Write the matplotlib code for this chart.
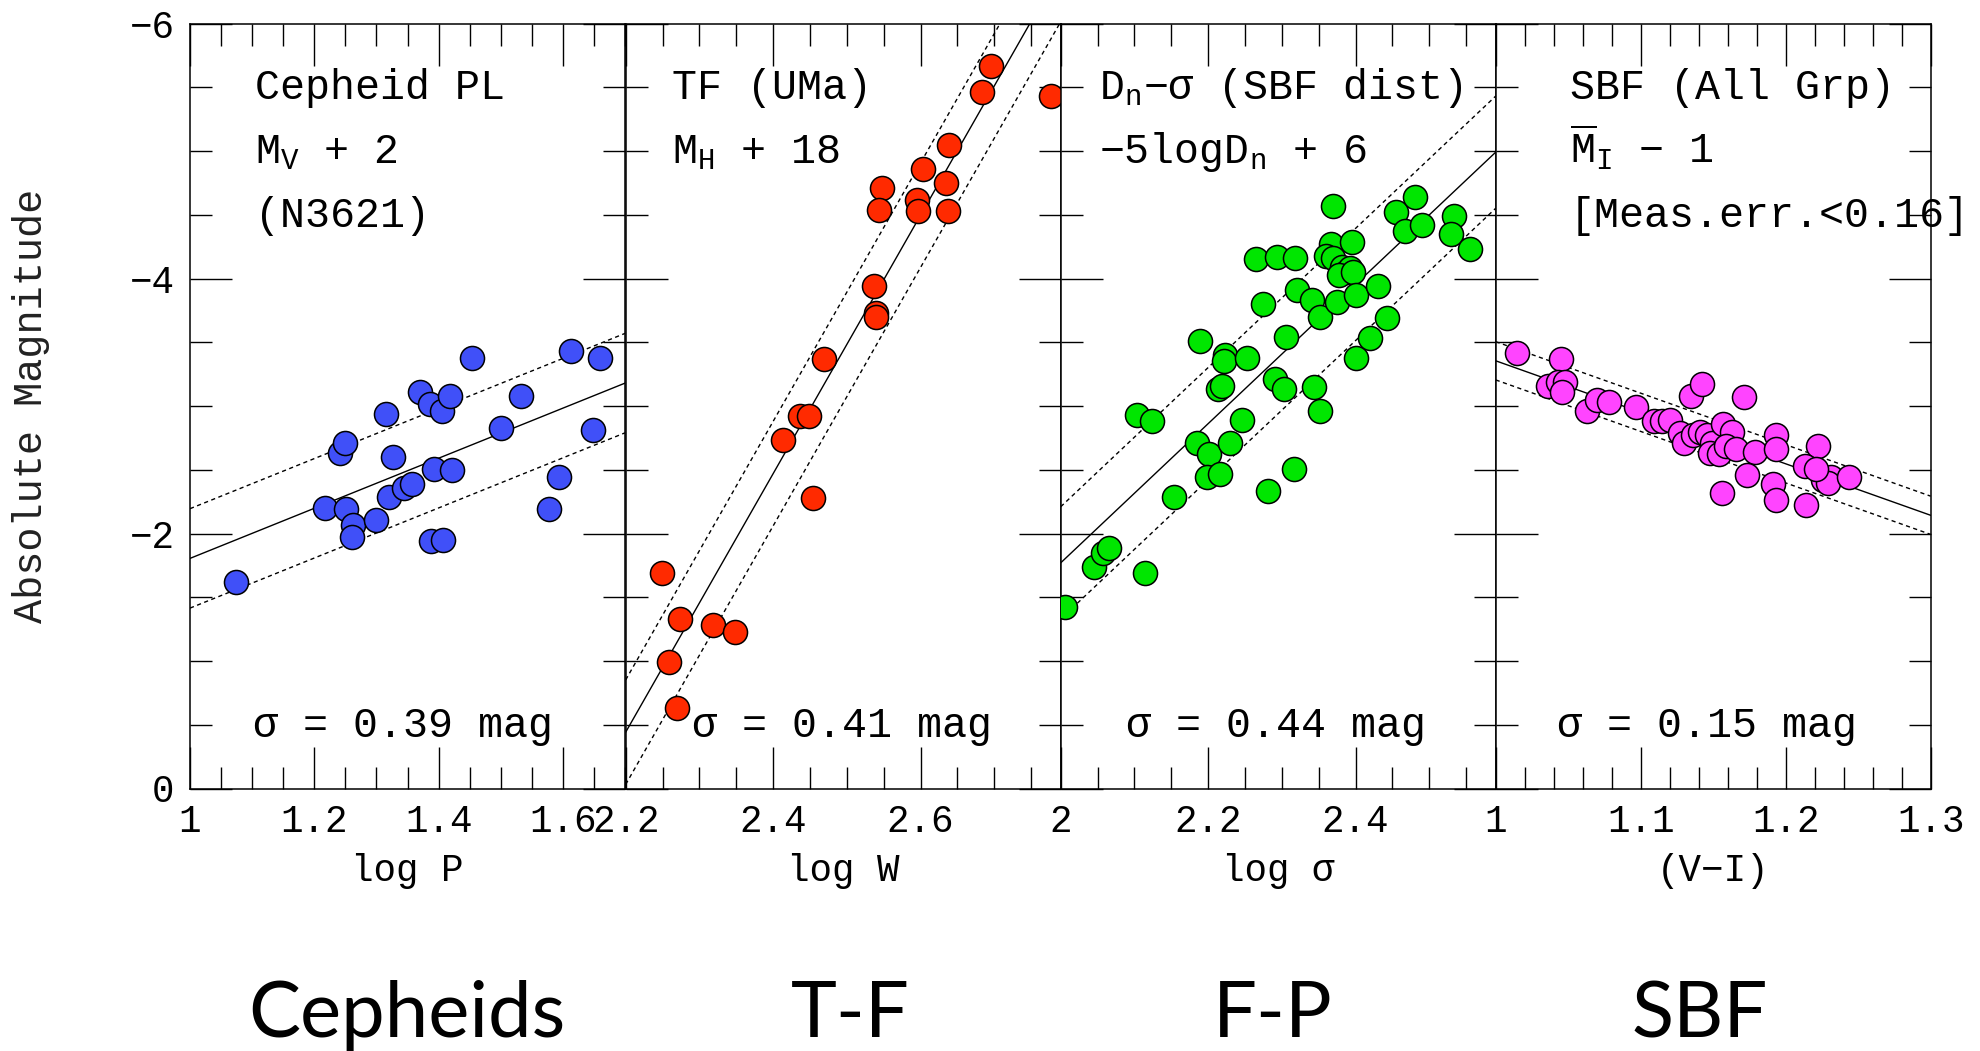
import numpy as np
import matplotlib
matplotlib.use("Agg")
import matplotlib.pyplot as plt
from matplotlib.ticker import MultipleLocator, FuncFormatter

plt.rcParams['font.family'] = ['Liberation Mono', 'DejaVu Sans Mono']
plt.rcParams['mathtext.fontset'] = 'custom'
plt.rcParams['mathtext.rm'] = 'Liberation Mono'
plt.rcParams['mathtext.it'] = 'Liberation Mono'
plt.rcParams['mathtext.bf'] = 'Liberation Mono'

# Cepheid PL (N3621), M_V + 2
cep_logp = [1.074, 1.218, 1.241, 1.249, 1.251, 1.263, 1.260, 1.299, 1.315, 1.326,
            1.320, 1.344, 1.358, 1.370, 1.386, 1.405, 1.418, 1.392, 1.421, 1.388,
            1.407, 1.453, 1.501, 1.532, 1.593, 1.578, 1.613, 1.660, 1.649]
cep_mag = [-1.62, -2.20, -2.63, -2.71, -2.19, -2.07, -1.97, -2.11, -2.94, -2.60,
           -2.29, -2.36, -2.39, -3.11, -3.02, -2.96, -3.08, -2.51, -2.50, -1.94,
           -1.95, -3.38, -2.83, -3.08, -2.44, -2.19, -3.43, -3.38, -2.81]

# Tully-Fisher (UMa), M_H + 18
tf_logw = [2.249, 2.274, 2.259, 2.269, 2.319, 2.348, 2.413, 2.436, 2.448, 2.454,
           2.469, 2.537, 2.539, 2.540, 2.547, 2.544, 2.595, 2.597, 2.603, 2.634,
           2.637, 2.638, 2.683, 2.696, 2.777]
tf_mag = [-1.69, -1.33, -0.99, -0.63, -1.28, -1.23, -2.73, -2.92, -2.92, -2.28,
          -3.37, -3.94, -3.73, -3.70, -4.71, -4.54, -4.62, -4.53, -4.86, -4.75,
          -4.53, -5.05, -5.46, -5.67, -5.43]

# Dn-sigma with SBF distances, -5 log Dn + 6
fp_logsig = [2.006, 2.045, 2.057, 2.065, 2.114, 2.103, 2.124, 2.154, 2.185, 2.201,
             2.198, 2.216, 2.230, 2.246, 2.189, 2.223, 2.221, 2.253, 2.214, 2.219,
             2.265, 2.293, 2.318, 2.274, 2.305, 2.291, 2.303, 2.281, 2.316, 2.321,
             2.341, 2.352, 2.343, 2.352, 2.369, 2.366, 2.360, 2.370, 2.395, 2.381,
             2.387, 2.393, 2.377, 2.397, 2.375, 2.400, 2.430, 2.401, 2.420, 2.442,
             2.455, 2.481, 2.467, 2.490, 2.534, 2.529, 2.555]
fp_mag = [-1.42, -1.74, -1.85, -1.89, -1.69, -2.93, -2.88, -2.29, -2.71, -2.62,
          -2.44, -2.47, -2.71, -2.89, -3.51, -3.40, -3.35, -3.38, -3.13, -3.16,
          -4.15, -4.17, -4.16, -3.80, -3.54, -3.21, -3.13, -2.33, -2.51, -3.91,
          -3.83, -3.70, -3.15, -2.96, -4.57, -4.27, -4.18, -4.16, -4.29, -4.09,
          -4.05, -4.08, -4.03, -4.05, -3.82, -3.87, -3.94, -3.38, -3.53, -3.69,
          -4.52, -4.64, -4.37, -4.42, -4.49, -4.35, -4.23]

# SBF (all groups), Mbar_I - 1
sbf_vi = [1.015, 1.045, 1.036, 1.043, 1.048, 1.046, 1.063, 1.070, 1.078, 1.097,
          1.109, 1.115, 1.120, 1.135, 1.142, 1.171, 1.127, 1.130, 1.136, 1.141,
          1.146, 1.149, 1.157, 1.163, 1.148, 1.154, 1.159, 1.166, 1.179, 1.173,
          1.156, 1.193, 1.193, 1.191, 1.193, 1.222, 1.213, 1.214, 1.226, 1.231,
          1.229, 1.244, 1.221]
sbf_mag = [-3.42, -3.37, -3.16, -3.19, -3.19, -3.11, -2.96, -3.05, -3.03, -2.99,
           -2.88, -2.88, -2.89, -3.08, -3.17, -3.07, -2.79, -2.71, -2.77, -2.80,
           -2.77, -2.71, -2.86, -2.80, -2.63, -2.62, -2.69, -2.66, -2.64, -2.46,
           -2.32, -2.77, -2.66, -2.39, -2.26, -2.69, -2.53, -2.22, -2.42, -2.44,
           -2.40, -2.44, -2.51]

# fitted relations: magnitude at left edge, slope, scatter
fit_left = [-1.805, -0.442, -1.77, -3.355]
fit_slope = [-1.964, -10.14, -5.46, 4.04]
fit_sigma = [0.39, 0.41, 0.44, 0.15]

xlims = [(1.0, 1.7), (2.2, 2.79), (2.0, 2.59), (1.0, 1.3)]
x_major = [0.2, 0.2, 0.2, 0.1]
x_minor = [0.05, 0.05, 0.05, 0.02]
xlabels = ['log P', 'log W', 'log σ', '(V\u2212I)']
colors = ['#4050f8', '#ff2a00', '#00e600', '#ff44ff']
panel_x = [cep_logp, tf_logw, fp_logsig, sbf_vi]
panel_y = [cep_mag, tf_mag, fp_mag, sbf_mag]

headers = [
    (0.149, ['Cepheid PL', 'M$_\\mathrm{V}$ + 2', '(N3621)']),
    (0.106, ['TF (UMa)', 'M$_\\mathrm{H}$ + 18']),
    (0.089, ['D$_\\mathrm{n}$\u2212σ (SBF dist)', '\u22125logD$_\\mathrm{n}$ + 6']),
    (0.170, ['SBF (All Grp)', '$\\overline{\\mathrm{M}}_\\mathrm{I}$ \u2212 1',
             '[Meas.err.<0.16]']),
]
sigma_x = [0.145, 0.152, 0.150, 0.142]
bottom_names = ['Cepheids', 'T-F', 'F-P', 'SBF']
bottom_x = [407, 850, 1273, 1700]


def fmt(v, pos):
    if abs(v) < 1e-9:
        return '0'
    return ('%g' % round(v, 3)).replace('-', '\u2212')


W, H = 1981, 1051
fig = plt.figure(figsize=(W / 100, H / 100), dpi=100)

ax_left = [190, 625.7, 1060.7, 1495.7]
ax_w = 435
ax_bottom = (H - 788.5) / H
ax_h = (788.5 - 23.6) / H

for i in range(4):
    ax = fig.add_axes([ax_left[i] / W, ax_bottom, ax_w / W, ax_h])
    x0, x1 = xlims[i]
    xx = np.array([x0, x1])
    yy = fit_left[i] + fit_slope[i] * (xx - x0)
    ax.plot(xx, yy, color='black', lw=1.0, zorder=2)
    for s in (-1, 1):
        ax.plot(xx, yy + s * fit_sigma[i], color='black', lw=1.0,
                dashes=(3, 2.5), zorder=2)
    ax.scatter(panel_x[i], panel_y[i], s=300, c=colors[i], edgecolors='black',
               linewidths=1.1, zorder=3)

    ax.set_xlim(x0, x1)
    ax.set_ylim(0, -6)
    ax.xaxis.set_major_locator(MultipleLocator(x_major[i]))
    ax.xaxis.set_minor_locator(MultipleLocator(x_minor[i]))
    ax.yaxis.set_major_locator(MultipleLocator(2))
    ax.yaxis.set_minor_locator(MultipleLocator(0.5))
    ax.xaxis.set_major_formatter(FuncFormatter(fmt))
    ax.yaxis.set_major_formatter(FuncFormatter(fmt))
    ax.tick_params(which='both', direction='in', top=True, right=True,
                   width=1.0, labelsize=27)
    ax.tick_params(which='major', length=30, pad=11)
    ax.tick_params(which='minor', length=15.5)
    if i > 0:
        ax.tick_params(labelleft=False)
    for sp in ax.spines.values():
        sp.set_linewidth(1.1)

    hx, lines = headers[i]
    for k, line in enumerate(lines):
        ax.text(hx, -5.5 + 0.5 * k + 0.094, line, transform=ax.get_yaxis_transform(),
                fontsize=30, va='baseline', ha='left')
    ax.text(sigma_x[i], -0.5 + 0.094, 'σ = %.2f mag' % fit_sigma[i],
            transform=ax.get_yaxis_transform(), fontsize=30, va='baseline', ha='left')
    ax.text(0.5, -0.108, xlabels[i], transform=ax.transAxes, fontsize=27,
            ha='center', va='center')

    fig.text(bottom_x[i] / W, 1 - 1037 / H, bottom_names[i], family='Lato',
             fontsize=56, ha='center', va='baseline')

fig.text(30.7 / W, ax_bottom + ax_h / 2, 'Absolute Magnitude', rotation=90,
         fontsize=29, ha='center', va='center', color='#222222')

fig.savefig('out.png', dpi=100)
